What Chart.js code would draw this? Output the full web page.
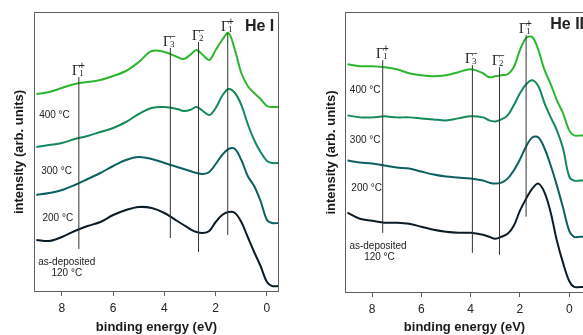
<!DOCTYPE html>
<html>
<head>
<meta charset="utf-8">
<script src="https://cdn.jsdelivr.net/npm/chart.js@4.4.0/dist/chart.umd.min.js"></script>
<style>
  html, body { margin: 0; padding: 0; background: #fff; overflow: hidden; width: 583px; height: 335px; }
  #left { position: absolute; left: 0; top: 0; width: 290px; height: 335px; }
  #right { position: absolute; left: 300px; top: 0; width: 294px; height: 335px; }
</style>
</head>
<body>
<div id="left"><canvas id="chartHeI"></canvas></div>
<div id="right"><canvas id="chartHeII"></canvas></div>
<script>
var energyHeI = [9.0, 8.5, 8.0, 7.5, 7.0, 6.5, 6.0, 5.5, 5.0, 4.5, 4.0, 3.5, 3.25, 3.0, 2.75, 2.5, 2.25, 2.0, 1.75, 1.5, 1.25, 1.0, 0.75, 0.5, 0.25, 0.0, -0.2, -0.45];
var energyHeII = [9.0, 8.5, 8.0, 7.5, 7.0, 6.5, 6.0, 5.5, 5.0, 4.5, 4.0, 3.5, 3.25, 3.0, 2.75, 2.5, 2.25, 2.0, 1.75, 1.5, 1.25, 1.0, 0.75, 0.5, 0.25, 0.0, -0.2, -0.45, -0.6];

var seriesNames = ['400 °C', '300 °C', '200 °C', 'as-deposited 120 °C'];

// He I intensities (arb. units, offset stacked)
var heI400 = [198, 200, 204, 208, 210, 212, 216, 221, 230, 241, 240, 235, 233, 237, 242, 237, 232, 242, 252, 259, 242, 219, 206, 199, 193, 186, 185, 185];
var heI300 = [145, 147, 149, 153, 156, 160, 164, 170, 178, 184, 185, 183, 181, 182, 185, 181, 177, 184, 196, 203, 199, 187, 168, 152, 140, 131, 129, 129];
var heI200 = [97, 99, 102, 107, 113, 119, 126, 132, 135, 133, 129, 125, 123, 121, 119, 118, 120, 128, 137, 143, 143, 132, 116, 106, 91, 72, 69, 69];
var heIAsDep = [52, 51, 55, 61, 66, 70, 77, 82, 85, 84, 79, 71, 67, 63, 60, 59, 61, 70, 77, 80, 79, 70, 55, 40, 26, 10, 6, 6];

// He II intensities
var heII400 = [228, 226, 226, 225, 223, 219, 217, 216, 217, 220, 223, 219, 215, 216, 217, 218, 225, 242, 254, 255, 242, 222, 208, 192, 179, 162, 157, 157, 157];
var heII300 = [177, 175, 175, 176, 175, 175, 174, 173, 172, 174, 176, 175, 172, 171, 173, 177, 187, 199, 208, 212, 206, 189, 175, 162, 144, 116, 112, 112, 112];
var heII200 = [132, 130, 129, 127, 125, 124, 121, 118, 116, 115, 114, 112, 110, 109, 110, 114, 122, 133, 146, 155, 155, 144, 127, 107, 85, 62, 56, 56, 56];
var heIIAsDep = [80, 74, 72, 70, 70, 69, 66, 63, 61, 60, 60, 58, 56, 54, 56, 59, 67, 82, 94, 104, 109, 100, 80, 52, 30, 12, 6, 6, 6];

// symmetry markers: energy, line bottom / top (intensity units), labels
var markerSub = ['1', '3', '2', '1'];
var markerSup = ['+', '\u2212', '\u2212', '+'];
var markerEnergyHeI = [7.34, 3.77, 2.67, 1.53];
var markerLowHeI = [43, 54, 40, 57];
var markerHighHeI = [215, 244, 250, 259];
var markerEnergyHeII = [7.57, 3.93, 2.83, 1.75];
var markerLowHeII = [60, 40, 38, 76];
var markerHighHeII = [232, 227, 225, 257];

var tickValues = [8, 6, 4, 2, 0];
var curveColors = ['#2db52f', '#16895a', '#0d6061', '#0b1c27'];

var annotate = {
  id: 'annotate',
  afterDatasetsDraw: function(chart, args, opts) {
    var ctx = chart.ctx, xs = chart.scales.x, ys = chart.scales.y, a = chart.chartArea;
    ctx.save();
    ctx.strokeStyle = '#5f5f5f';
    ctx.lineWidth = 1;
    ctx.strokeRect(a.left + 0.5, a.top + 0.5, a.right - a.left - 1, a.bottom - a.top - 1);

    ctx.fillStyle = '#222';
    ctx.font = '10px "Liberation Sans", Arial, sans-serif';
    ctx.textAlign = 'center';
    ctx.textBaseline = 'middle';
    opts.labels.forEach(function(l) {
      ctx.fillText(l.text, xs.getPixelForValue(l.e), ys.getPixelForValue(l.i));
    });

    ctx.textBaseline = 'alphabetic';
    opts.markerE.forEach(function(e, i) {
      var px = Math.round(xs.getPixelForValue(e)) + 1;
      var top = ys.getPixelForValue(opts.markerTop[i]);
      ctx.font = '14px "Liberation Serif", "DejaVu Serif", serif';
      ctx.textAlign = 'right';
      ctx.fillText('\u0393', px, top - 2);
      ctx.textAlign = 'left';
      ctx.font = '9px "Liberation Serif", "DejaVu Serif", serif';
      ctx.fillText(markerSub[i], px - 1, top - 1);
      ctx.font = '10px "Liberation Sans", Arial, sans-serif';
      ctx.fillText(markerSup[i], px - 1, top - 8);
    });

    ctx.font = 'bold 16px "Liberation Sans", Arial, sans-serif';
    ctx.textAlign = 'left';
    ctx.textBaseline = 'middle';
    ctx.fillText(opts.name, xs.getPixelForValue(opts.nameE), ys.getPixelForValue(opts.nameI));
    ctx.restore();
  }
};

function makeChart(id, energies, curves, mE, mLow, mHigh, cfg) {
  var datasets = [];
  curves.forEach(function(vals, k) {
    datasets.push({
      label: seriesNames[k],
      data: energies.map(function(e, j) { return {x: e, y: vals[j]}; }),
      borderColor: curveColors[k],
      borderWidth: 2,
      pointRadius: 0,
      tension: 0.35,
      order: 1
    });
  });
  mE.forEach(function(e, i) {
    datasets.push({
      label: 'marker' + i,
      data: [{x: e, y: mLow[i]}, {x: e, y: mHigh[i]}],
      borderColor: '#333',
      borderWidth: 1,
      pointRadius: 0,
      order: 0
    });
  });

  return new Chart(id, {
    type: 'line',
    data: {datasets: datasets},
    options: {
      responsive: true,
      maintainAspectRatio: false,
      animation: false,
      devicePixelRatio: 1,
      layout: {padding: {top: 12, right: cfg.padRight, left: 0, bottom: 0}},
      plugins: {
        legend: {display: false},
        tooltip: {enabled: false},
        annotate: {
          labels: cfg.labels,
          markerE: mE,
          markerTop: mHigh,
          name: cfg.name,
          nameE: cfg.nameE,
          nameI: cfg.nameI
        }
      },
      scales: {
        x: {
          type: 'linear',
          reverse: true,
          min: cfg.xMin,
          max: cfg.xMax,
          afterBuildTicks: function(s) { s.ticks = tickValues.map(function(v) { return {value: v}; }); },
          afterFit: function(s) { s.height = cfg.xHeight; },
          border: {display: false},
          grid: {drawOnChartArea: false, drawTicks: true, tickLength: 4, color: '#5f5f5f'},
          ticks: {color: '#222', padding: 5, maxRotation: 0, font: {family: '"Liberation Sans", Arial, sans-serif', size: 12}},
          title: {
            display: true,
            text: 'binding energy (eV)',
            color: '#1a1a1a',
            padding: {top: 0, bottom: 0},
            font: {family: '"Liberation Sans", Arial, sans-serif', size: 13, weight: 'bold'}
          }
        },
        y: {
          min: 0,
          max: 280,
          afterFit: function(s) { s.width = cfg.yWidth; },
          border: {display: false},
          grid: {display: false},
          ticks: {display: false},
          title: {
            display: true,
            text: 'intensity (arb. units)',
            color: '#1a1a1a',
            padding: {top: cfg.yTitlePad, bottom: 0},
            font: {family: '"Liberation Sans", Arial, sans-serif', size: 13, weight: 'bold'}
          }
        }
      }
    },
    plugins: [annotate]
  });
}

makeChart('chartHeI', energyHeI, [heI400, heI300, heI200, heIAsDep],
  markerEnergyHeI, markerLowHeI, markerHighHeI, {
    xMin: -0.47, xMax: 9.09, xHeight: 43, yWidth: 34, yTitlePad: 12, padRight: 11,
    name: 'He I', nameE: 0.86, nameI: 265,
    labels: [
      {text: '400 °C', e: 8.29, i: 177},
      {text: '300 °C', e: 8.21, i: 121},
      {text: '200 °C', e: 8.16, i: 74},
      {text: 'as-deposited', e: 7.81, i: 30},
      {text: '120 °C', e: 7.81, i: 19}
    ]
  });

makeChart('chartHeII', energyHeII, [heII400, heII300, heII200, heIIAsDep],
  markerEnergyHeII, markerLowHeII, markerHighHeII, {
    xMin: -0.6, xMax: 9.1, xHeight: 42, yWidth: 45, yTitlePad: 24, padRight: 10,
    name: 'He II', nameE: 0.77, nameI: 267,
    labels: [
      {text: '400 °C', e: 8.28, i: 202},
      {text: '300 °C', e: 8.28, i: 152},
      {text: '200 °C', e: 8.22, i: 104},
      {text: 'as-deposited', e: 7.76, i: 47},
      {text: '120 °C', e: 7.70, i: 36}
    ]
  });
</script>
</body>
</html>
